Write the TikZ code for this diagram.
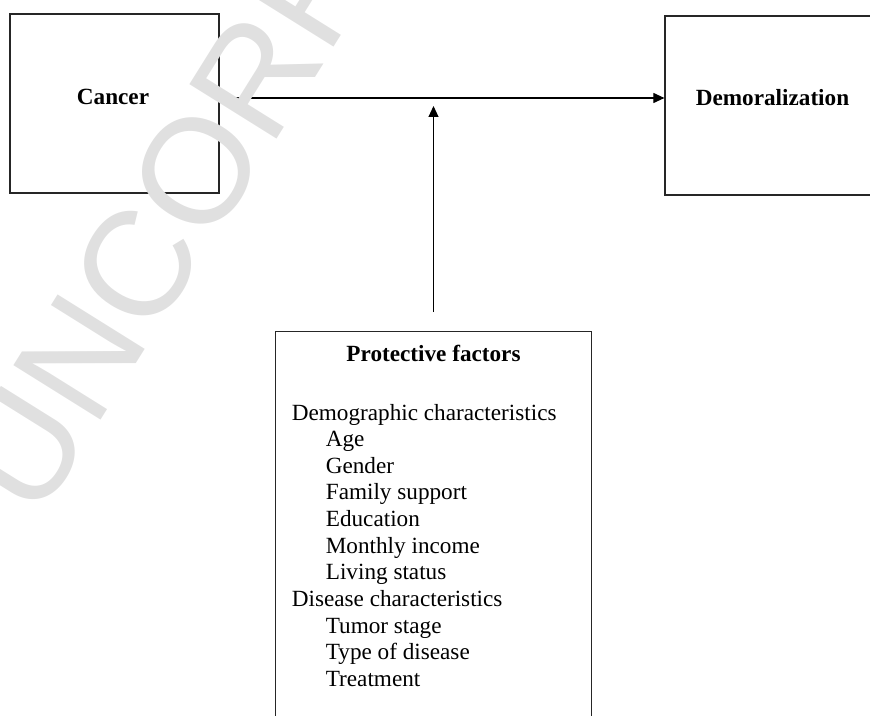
\documentclass[tikz,border=0pt]{standalone}
\usepackage{fontspec}
\setmainfont{Liberation Serif}
\newfontfamily\wmfont{Liberation Sans}
\usetikzlibrary{arrows.meta,positioning}

\begin{document}
\begin{tikzpicture}[
    font=\fontsize{13.2}{15.2}\selectfont,
    box/.style={draw=black!85, line width=0.7pt, rectangle, inner sep=0},
    link/.style={-{Triangle[length=0.22cm,width=0.2cm]}, line width=0.6pt},
    head/.style={font=\fontsize{13.2}{15.2}\selectfont\bfseries, anchor=base, inner sep=0},
    item/.style={anchor=base west, inner sep=0},
    wm/.style={font=\fontsize{85}{85}\selectfont\wmfont, text=black!12, rotate=58,
      anchor=base west, inner sep=0}]
  \useasboundingbox (0,0) rectangle (17.4,-14.32);
  \clip (0,0) rectangle (17.4,-14.32);
  % boxes
  \node[box, minimum width=4.18cm, minimum height=3.58cm] (cancer) at (2.29,-2.07) {};
  \node[box, minimum width=4.18cm, minimum height=3.58cm] (demor) at (15.39,-2.11) {};
  \node[box, minimum width=6.32cm, minimum height=8.4cm, anchor=north] (protect) at (8.67,-6.61) {};
  \node[head] (cancerlbl) at (2.26,-2.1) {Cancer};
  \node[head] (demorlbl) at (15.45,-2.12) {Demoralization};
  \node[head] (protectlbl) at (8.67,-7.23) {Protective factors};
  \foreach \dx/\txt [count=\i] in {0/Demographic characteristics, 1/Age, 1/Gender,
      1/Family support, 1/Education, 1/Monthly income, 1/Living status,
      0/Disease characteristics, 1/Tumor stage, 1/Type of disease, 1/Treatment}
    \node[item] (item\i) at (5.83+0.68*\dx, -7.8667-0.5333*\i) {\txt};
  % arrows
  \coordinate (meet) at (protect.north |- 0,-1.96);
  \draw[link] (cancer.east |- meet) -- (demor.west |- meet);
  \draw[link] ([yshift=0.37cm]protect.north) -- ([yshift=-0.16cm]meet);
  % watermark
  \node[wm] (proof) at (0.75,-10.45) {UNCORRECTED PROOF};
\end{tikzpicture}
\end{document}
